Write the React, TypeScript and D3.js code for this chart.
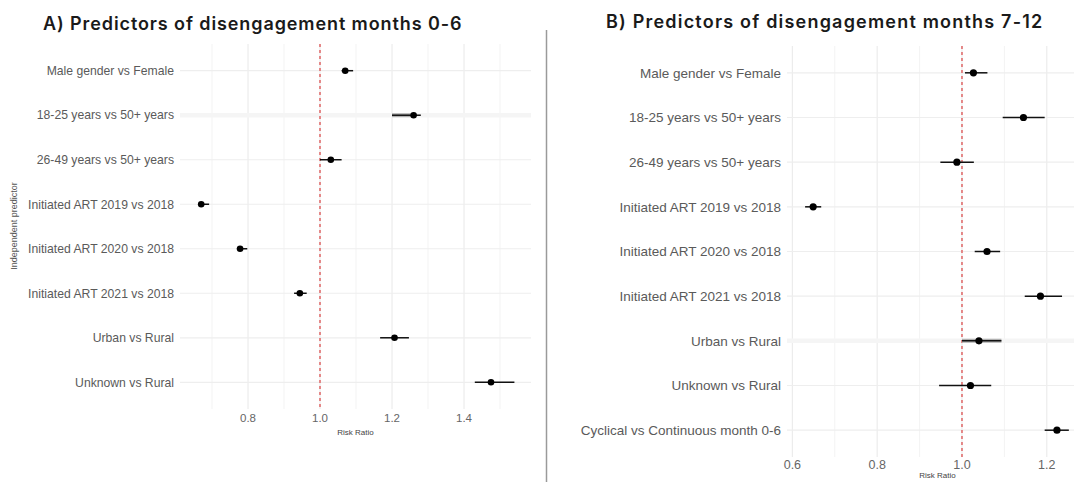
import React from "react";
import * as d3 from "d3";

const predictorsA = [
  "Male gender vs Female",
  "18-25 years vs 50+ years",
  "26-49 years vs 50+ years",
  "Initiated ART 2019 vs 2018",
  "Initiated ART 2020 vs 2018",
  "Initiated ART 2021 vs 2018",
  "Urban vs Rural",
  "Unknown vs Rural",
];
const rrA = [1.07, 1.26, 1.03, 0.67, 0.778, 0.944, 1.207, 1.475];
const loA = [1.06, 1.2, 1.0, 0.662, 0.769, 0.928, 1.167, 1.43];
const hiA = [1.092, 1.28, 1.06, 0.692, 0.798, 0.963, 1.247, 1.54];
const shadedA = ["18-25 years vs 50+ years"];

const predictorsB = [
  "Male gender vs Female",
  "18-25 years vs 50+ years",
  "26-49 years vs 50+ years",
  "Initiated ART 2019 vs 2018",
  "Initiated ART 2020 vs 2018",
  "Initiated ART 2021 vs 2018",
  "Urban vs Rural",
  "Unknown vs Rural",
  "Cyclical vs Continuous month 0-6",
];
const rrB = [1.027, 1.145, 0.988, 0.649, 1.059, 1.185, 1.04, 1.02, 1.224];
const loB = [1.007, 1.096, 0.949, 0.63, 1.03, 1.148, 1.0, 0.946, 1.195];
const hiB = [1.06, 1.195, 1.028, 0.668, 1.09, 1.236, 1.093, 1.069, 1.252];
const shadedB = ["Urban vs Rural"];

const majorTicksA = [0.8, 1.0, 1.2, 1.4];
const minorTicksA = [0.7, 0.9, 1.1, 1.3, 1.5];
const majorTicksB = [0.6, 0.8, 1.0, 1.2];
const minorTicksB = [0.7, 0.9, 1.1];

const titleA = "A) Predictors of disengagement months 0-6";
const titleB = "B) Predictors of disengagement months 7-12";
const xTitle = "Risk Ratio";
const yTitle = "Independent predictor";

type PanelProps = {
  labels: string[];
  rr: number[];
  lo: number[];
  hi: number[];
  shaded: string[];
  partialShade: boolean;
  major: number[];
  minor: number[];
  xDomain: [number, number];
  xRange: [number, number];
  yRange: [number, number];
  labelSize: number;
  tickSize: number;
  tickY: number;
  xTitleY: number;
  r: number;
};

function Panel(p: PanelProps) {
  const x = d3.scaleLinear().domain(p.xDomain).range(p.xRange);
  const y = d3.scalePoint<string>().domain(p.labels).range(p.yRange).padding(0.6);
  const [x0, x1] = p.xRange;
  const [y0, y1] = p.yRange;
  const font = "'Liberation Sans', Arial, sans-serif";
  return (
    <g>
      {p.minor.map((t) => (
        <line key={"mi" + t} x1={x(t)} x2={x(t)} y1={y0} y2={y1} stroke="#f3f3f3" strokeWidth={1} />
      ))}
      {p.major.map((t) => (
        <line key={"ma" + t} x1={x(t)} x2={x(t)} y1={y0} y2={y1} stroke="#ececec" strokeWidth={1.2} />
      ))}
      {p.labels.map((l) => (
        <line
          key={"h" + l}
          x1={x0}
          x2={x1}
          y1={y(l)!}
          y2={y(l)!}
          stroke={p.shaded.includes(l) ? "#f5f5f5" : "#eeeeee"}
          strokeWidth={p.shaded.includes(l) ? 4.5 : 1.2}
        />
      ))}
      <line
        x1={x(1)}
        x2={x(1)}
        y1={y0}
        y2={y1}
        stroke="#e06666"
        strokeWidth={1.5}
        strokeDasharray="3,3"
      />
      {p.labels.map((l, i) => {
        const yy = y(l)!;
        const sh = p.shaded.includes(l);
        return (
          <g key={"d" + l}>
            {sh && (
              <line
                x1={x(p.lo[i])}
                x2={p.partialShade ? x(p.rr[i]) : x(p.hi[i])}
                y1={yy}
                y2={yy}
                stroke="#b0b0b0"
                strokeWidth={4}
              />
            )}
            <line x1={x(p.lo[i])} x2={x(p.hi[i])} y1={yy} y2={yy} stroke="#111" strokeWidth={1.5} />
            <circle cx={x(p.rr[i])} cy={yy} r={p.r} fill="#000" />
          </g>
        );
      })}
      {p.labels.map((l) => (
        <text
          key={"t" + l}
          x={x0 - 6}
          y={y(l)!}
          dy="0.35em"
          textAnchor="end"
          fontFamily={font}
          fontSize={p.labelSize}
          fill="#5a5a5a"
        >
          {l}
        </text>
      ))}
      {p.major.map((t) => (
        <text
          key={"xl" + t}
          x={x(t)}
          y={p.tickY}
          dy="0.35em"
          textAnchor="middle"
          fontFamily={font}
          fontSize={p.tickSize}
          fill="#666"
        >
          {d3.format(".1f")(t)}
        </text>
      ))}
      <text
        x={(x0 + x1) / 2}
        y={p.xTitleY}
        dy="0.35em"
        textAnchor="middle"
        fontFamily={font}
        fontSize={8}
        fill="#444"
      >
        {xTitle}
      </text>
    </g>
  );
}

export default function App() {
  return (
    <svg
      width={1074}
      height={482}
      style={{ position: "absolute", left: 0, top: 0, background: "#fff" }}
    >
      <rect x={0} y={0} width={1074} height={482} fill="#fff" />
      <text
        x={43}
        y={30}
        fontFamily="Inter, 'Open Sans', sans-serif"
        fontWeight={600}
        fontSize={18}
        letterSpacing={0.9}
        fill="#1a1a1a"
      >
        {titleA}
      </text>
      <text
        x={606}
        y={28}
        fontFamily="Inter, 'Open Sans', sans-serif"
        fontWeight={600}
        fontSize={18}
        letterSpacing={1.2}
        fill="#1a1a1a"
      >
        {titleB}
      </text>
      <line x1={546.5} x2={546.5} y1={30} y2={482} stroke="#9a9a9a" strokeWidth={1.5} />
      <text
        transform="translate(14,226) rotate(-90)"
        textAnchor="middle"
        dy="0.35em"
        fontFamily="'Liberation Sans', Arial, sans-serif"
        fontSize={9}
        fill="#555"
      >
        {yTitle}
      </text>
      <Panel
        labels={predictorsA}
        rr={rrA}
        lo={loA}
        hi={hiA}
        shaded={shadedA}
        partialShade={true}
        major={majorTicksA}
        minor={minorTicksA}
        xDomain={[0.6111, 1.5861]}
        xRange={[180, 531]}
        yRange={[44, 409]}
        labelSize={12.2}
        tickSize={11.5}
        tickY={418}
        xTitleY={432}
        r={3.3}
      />
      <Panel
        labels={predictorsB}
        rr={rrB}
        lo={loB}
        hi={hiB}
        shaded={shadedB}
        partialShade={false}
        major={majorTicksB}
        minor={minorTicksB}
        xDomain={[0.5873, 1.2972]}
        xRange={[787, 1088]}
        yRange={[46, 457]}
        labelSize={13.5}
        tickSize={12.5}
        tickY={465}
        xTitleY={475.5}
        r={3.6}
      />
    </svg>
  );
}
